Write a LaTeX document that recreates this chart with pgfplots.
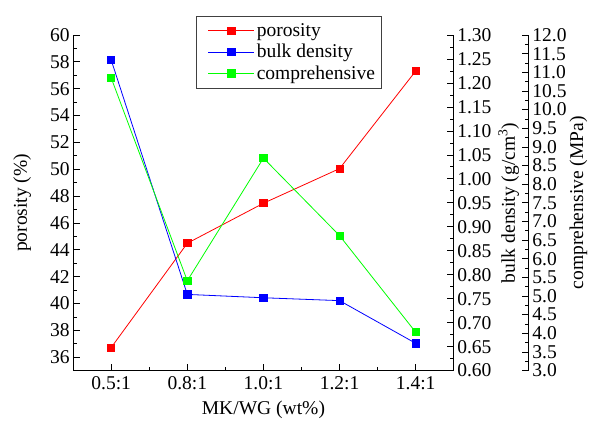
\documentclass[border=0pt]{standalone}
\usepackage{fontspec}
\setmainfont{Liberation Serif}
\usepackage{pgfplots}
\pgfplotsset{compat=1.18}

\definecolor{por}{RGB}{255,0,0}
\definecolor{bulk}{RGB}{0,0,255}
\definecolor{comp}{RGB}{0,255,0}

\pgfplotsset{
  base/.style={scale only axis,width=380pt,height=335pt,xmin=-0.5,xmax=4.5,
    font=\fontsize{19.5}{23}\selectfont,
    /pgf/number format/assume math mode=true,
    major tick length=7pt,minor tick length=4pt,tick align=inside,
    tick style={black,line width=0.8pt},axis line style={black,line width=0.9pt},
    clip=false},
  ser/.style={color=#1,line width=0.8pt,mark=square*,mark size=3.6pt,mark options={fill=#1,draw=#1}},
  legend image code/.code={\path (0pt,0pt); \draw[mark repeat=2,mark phase=2,#1] plot coordinates {(7pt,0pt) (30pt,0pt) (53pt,0pt)};}
}

\begin{document}
\begin{tikzpicture}
% porosity, left axis
\begin{axis}[base,name=main,axis y line*=left,axis x line*=bottom,
  xtick={0,...,4},xticklabels={0.5:1,0.8:1,1.0:1,1.2:1,1.4:1},minor x tick num=1,
  xticklabel style={yshift=-2pt},
  ymin=35,ymax=60,ytick={36,38,...,60},minor y tick num=1,
  xlabel={MK/WG (wt\%)},ylabel={porosity (\%)},
  xlabel style={yshift=-5pt},ylabel shift=12pt]
\addplot[ser=por] coordinates {(0,36.72) (1,44.49) (2,47.47) (3,50.05) (4,57.32)};
\end{axis}
% bulk density, right axis
\begin{axis}[base,axis y line*=right,axis x line=none,
  ymin=0.6,ymax=1.3,ytick={0.6,0.65,0.7,0.75,0.8,0.85,0.9,0.95,1.0,1.05,1.1,1.15,1.2,1.25,1.3},
  minor y tick num=1,
  yticklabel style={/pgf/number format/.cd,fixed,fixed zerofill,precision=2},
  ylabel={bulk density (g/cm\textsuperscript{3})}]
\addplot[ser=bulk] coordinates {(0,1.248) (1,0.759) (2,0.752) (3,0.746) (4,0.657)};
\end{axis}
% comprehensive, outer right axis
\begin{axis}[base,axis y line*=right,axis x line=none,axis y line shift=75pt,
  ymin=3,ymax=12,ytick={3,3.5,...,12},minor y tick num=1,
  yticklabel style={/pgf/number format/.cd,fixed,fixed zerofill,precision=1},
  ylabel={comprehensive (MPa)},ylabel shift=-4pt,
  legend cell align=left,
  legend style={at={(rel axis cs:0.324,1)},anchor=north west,yshift=19pt,
    draw=black!75,line width=0.8pt,inner xsep=4pt,inner ysep=5pt,row sep=2.5pt,
    font=\fontsize{19.5}{23}\selectfont}]
\addlegendimage{ser=por}
\addlegendentry{porosity}
\addlegendimage{ser=bulk}
\addlegendentry{bulk density}
\addplot[ser=comp] coordinates {(0,10.85) (1,5.41) (2,8.70) (3,6.62) (4,4.03)};
\addlegendentry{comprehensive}
\end{axis}
\pgfresetboundingbox
\path ([shift={(-73pt,-58pt)}]main.south west) rectangle ([shift={(145pt,35pt)}]main.north east);
\end{tikzpicture}
\end{document}
